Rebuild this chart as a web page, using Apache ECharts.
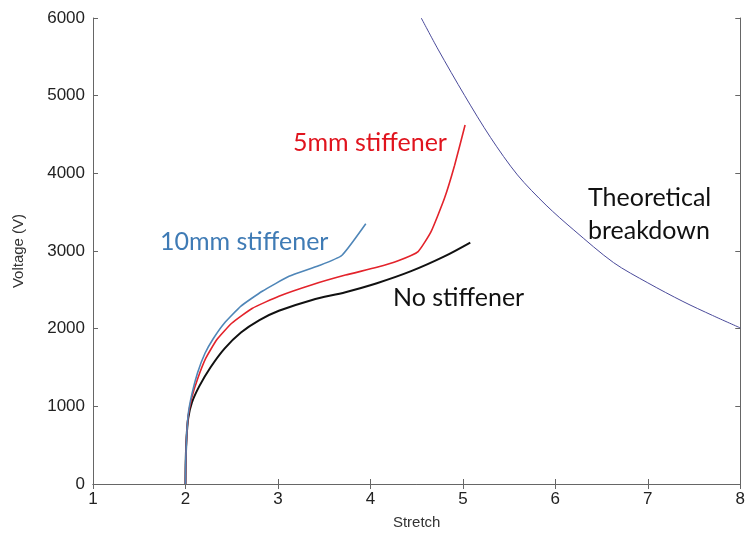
<!DOCTYPE html>
<html>
<head>
<meta charset="utf-8">
<script src="https://cdn.jsdelivr.net/npm/echarts@6/dist/echarts.min.js"></script>
<style>
  html, body { margin: 0; padding: 0; background: #fff; }
  #chart { width: 748px; height: 535px; }
</style>
</head>
<body>
<div id="chart"></div>
<script>
// stretch / voltage points
const noStiffener = [
  [2.0, 0], [2.003, 300], [2.012, 600], [2.03, 850], [2.07, 1050], [2.15, 1260],
  [2.27, 1500], [2.42, 1740], [2.6, 1950], [2.8, 2110], [3.01, 2230], [3.37, 2370],
  [3.73, 2470], [4.07, 2585], [4.44, 2740], [4.8, 2930], [5.08, 3108]
]
const stiffener5mm = [
  [2.0, 0], [2.003, 300], [2.012, 600], [2.03, 880], [2.07, 1120], [2.13, 1350],
  [2.22, 1620], [2.34, 1860], [2.5, 2070], [2.72, 2260], [3.01, 2418], [3.37, 2566],
  [3.73, 2690], [4.07, 2790], [4.3, 2875], [4.516, 2993], [4.656, 3249], [4.8, 3675],
  [4.91, 4101], [5.024, 4622]
]
const stiffener10mm = [
  [2.0, 0], [2.003, 300], [2.012, 600], [2.03, 900], [2.07, 1160], [2.13, 1430],
  [2.21, 1680], [2.3, 1870], [2.42, 2070], [2.6, 2290], [2.83, 2482], [3.12, 2674],
  [3.44, 2810], [3.69, 2942], [3.95, 3350]
]
const breakdown = [
  [4.55, 6000], [4.73, 5600], [5.02, 5000], [5.3, 4460], [5.59, 3980], [5.9, 3590],
  [6.2, 3270], [6.63, 2850], [7.0, 2590], [7.38, 2350], [7.7, 2170], [8.0, 2010]
]

const xTicks = [1, 2, 3, 4, 5, 6, 7, 8]
const yTicks = [0, 1000, 2000, 3000, 4000, 5000, 6000]

const axisColor = '#666'
const labelFont = { color: '#222', fontSize: 17, fontFamily: 'Liberation Sans' }
const noteFont = 'Lato'

const chart = echarts.init(document.getElementById('chart'))

const line = (data, color, width, smooth) => ({
  type: 'line',
  data: data,
  showSymbol: false,
  smooth: smooth,
  lineStyle: { color: color, width: width },
  animation: false,
  z: 3,
})

chart.setOption({
  backgroundColor: '#fff',
  animation: false,
  grid: { left: 93, right: 4, top: 18, bottom: 48 },
  xAxis: [
    {
      type: 'value', min: xTicks[0], max: xTicks[xTicks.length - 1], interval: 1,
      name: 'Stretch', nameLocation: 'middle', nameGap: 31,
      nameTextStyle: { color: '#333', fontSize: 15, fontFamily: 'Liberation Sans' },
      axisLine: { show: true, lineStyle: { color: axisColor, width: 1 } },
      axisTick: { show: true, inside: true, length: 5, lineStyle: { color: axisColor } },
      axisLabel: Object.assign({ margin: 7 }, labelFont),
      splitLine: { show: false },
    },
    {
      type: 'value', position: 'top', min: 1, max: 8, interval: 1,
      axisLine: { show: true, lineStyle: { color: axisColor, width: 1 } },
      axisTick: { show: true, inside: true, length: 5, lineStyle: { color: axisColor } },
      axisLabel: { show: false },
      splitLine: { show: false },
    },
  ],
  yAxis: [
    {
      type: 'value', min: yTicks[0], max: yTicks[yTicks.length - 1], interval: 1000,
      name: 'Voltage (V)', nameLocation: 'middle', nameGap: 67,
      nameTextStyle: { color: '#333', fontSize: 15, fontFamily: 'Liberation Sans' },
      axisLine: { show: true, lineStyle: { color: axisColor, width: 1 } },
      axisTick: { show: true, inside: true, length: 5, lineStyle: { color: axisColor } },
      axisLabel: Object.assign({ margin: 8, formatter: v => String(v) }, labelFont),
      splitLine: { show: false },
    },
    {
      type: 'value', position: 'right', min: 0, max: 6000, interval: 1000,
      axisLine: { show: true, lineStyle: { color: axisColor, width: 1 } },
      axisTick: { show: true, inside: true, length: 5, lineStyle: { color: axisColor } },
      axisLabel: { show: false },
      splitLine: { show: false },
    },
  ],
  series: [
    line(breakdown, '#4a4a9a', 1, 0.3),
    line(noStiffener, '#111111', 2, 0.3),
    line(stiffener5mm, '#e3232b', 1.6, 0.15),
    line(stiffener10mm, '#4f86b8', 1.6, 0.15),
  ],
  graphic: [
    { type: 'text', left: 160, top: 229, style: { text: '10mm stiffener', fill: '#3f7bb5', font: '25px ' + noteFont } },
    { type: 'text', left: 293, top: 130, style: { text: '5mm stiffener', fill: '#e0141e', font: '25px ' + noteFont } },
    { type: 'text', left: 393, top: 285, style: { text: 'No stiffener', fill: '#111', font: '25px ' + noteFont } },
    { type: 'text', left: 588, top: 181, style: { text: 'Theoretical\nbreakdown', fill: '#111', font: '25px ' + noteFont, lineHeight: 33 } },
  ],
})
</script>
</body>
</html>
